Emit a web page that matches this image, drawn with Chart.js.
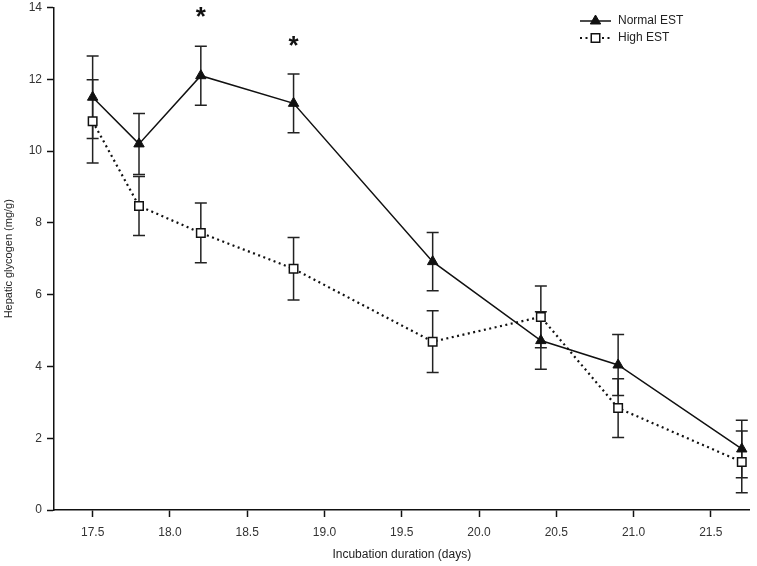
<!DOCTYPE html>
<html>
<head>
<meta charset="UTF-8">
<script src="https://cdn.jsdelivr.net/npm/chart.js"></script>
<style>
  html, body { margin: 0; padding: 0; background: #fff; }
  #wrap { width: 757px; height: 566px; }
</style>
</head>
<body>
<div id="wrap"><canvas id="c" width="757" height="566"></canvas></div>
<script>
// incubation day of each sample
const days = [17.5, 17.8, 18.2, 18.8, 19.7, 20.4, 20.9, 21.7];
// hepatic glycogen, mean and error
const normalEST = [11.5, 10.2, 12.1, 11.33, 6.92, 4.72, 4.04, 1.7];
const normalErr = [1.15, 0.85, 0.82, 0.82, 0.81, 0.8, 0.85, 0.8];
const highEST = [10.83, 8.47, 7.72, 6.72, 4.69, 5.38, 2.84, 1.34];
const highErr = [1.16, 0.82, 0.83, 0.87, 0.86, 0.86, 0.82, 0.86];
// significance marks
const starDays = [18.2, 18.8];
const starY = [13.8, 13.0];
const xTicks = [17.5, 18.0, 18.5, 19.0, 19.5, 20.0, 20.5, 21.0, 21.5];

const FONT = 'Liberation Sans, Arial, sans-serif';

const errorBars = {
  id: 'errorBars',
  beforeDatasetsDraw(chart) {
    const ctx = chart.ctx, xs = chart.scales.x, ys = chart.scales.y;
    const sets = [[normalEST, normalErr], [highEST, highErr]];
    ctx.save();
    ctx.strokeStyle = '#222';
    ctx.lineWidth = 1.5;
    sets.forEach(([vals, errs]) => {
      vals.forEach((v, i) => {
        const x = xs.getPixelForValue(days[i]);
        const y1 = ys.getPixelForValue(v + errs[i]);
        const y2 = ys.getPixelForValue(v - errs[i]);
        ctx.beginPath();
        ctx.moveTo(x, y1); ctx.lineTo(x, y2);
        ctx.moveTo(x - 6, y1); ctx.lineTo(x + 6, y1);
        ctx.moveTo(x - 6, y2); ctx.lineTo(x + 6, y2);
        ctx.stroke();
      });
    });
    ctx.restore();
  },
  afterDatasetsDraw(chart) {
    const ctx = chart.ctx, xs = chart.scales.x, ys = chart.scales.y;
    ctx.save();
    ctx.fillStyle = '#111';
    ctx.font = 'bold 26px ' + FONT;
    ctx.textAlign = 'center';
    ctx.textBaseline = 'middle';
    starDays.forEach((d, i) => {
      ctx.fillText('*', xs.getPixelForValue(d), ys.getPixelForValue(starY[i]) + 3);
    });
    ctx.restore();
  }
};

const customLegend = {
  id: 'customLegend',
  afterDraw(chart) {
    const ctx = chart.ctx;
    const x0 = 580, rows = [21, 38];
    ctx.save();
    chart.data.datasets.forEach((ds, i) => {
      const y = rows[i];
      const cx = x0 + 15.5;
      ctx.beginPath();
      ctx.strokeStyle = '#111';
      ctx.lineWidth = ds.borderWidth;
      ctx.setLineDash(ds.borderDash || []);
      ctx.moveTo(x0, y); ctx.lineTo(x0 + 31, y);
      ctx.stroke();
      ctx.setLineDash([]);
      ctx.fillStyle = ds.pointBackgroundColor;
      ctx.strokeStyle = ds.pointBorderColor;
      ctx.lineWidth = ds.pointBorderWidth;
      ctx.beginPath();
      if (ds.pointStyle === 'rect') {
        const s = Math.SQRT1_2 * ds.pointRadius;
        ctx.rect(cx - s, y - s, 2 * s, 2 * s);
      } else {
        const r = ds.pointRadius;
        ctx.moveTo(cx, y - r);
        ctx.lineTo(cx + r * 0.866, y + r / 2);
        ctx.lineTo(cx - r * 0.866, y + r / 2);
        ctx.closePath();
      }
      ctx.fill(); ctx.stroke();
      ctx.fillStyle = '#222';
      ctx.font = '12px ' + FONT;
      ctx.textBaseline = 'middle';
      ctx.fillText(ds.label, x0 + 38, y);
    });
    ctx.restore();
  }
};

new Chart(document.getElementById('c'), {
  type: 'line',
  data: {
    datasets: [
      {
        label: 'Normal EST',
        data: days.map((d, i) => ({ x: d, y: normalEST[i] })),
        borderColor: '#111',
        borderWidth: 1.5,
        pointStyle: 'triangle',
        pointRadius: 6,
        pointBackgroundColor: '#111',
        pointBorderColor: '#111',
        pointBorderWidth: 1,
        tension: 0
      },
      {
        label: 'High EST',
        data: days.map((d, i) => ({ x: d, y: highEST[i] })),
        borderColor: '#111',
        borderWidth: 2.2,
        borderDash: [2, 3.5],
        pointStyle: 'rect',
        pointRadius: 6,
        pointBackgroundColor: '#fff',
        pointBorderColor: '#111',
        pointBorderWidth: 1.5,
        tension: 0
      }
    ]
  },
  options: {
    responsive: false,
    animation: false,
    layout: { padding: { top: 0, right: 4, left: 0, bottom: 0 } },
    plugins: { legend: { display: false }, tooltip: { enabled: false } },
    scales: {
      x: {
        type: 'linear',
        min: 17.25,
        max: 21.75,
        afterBuildTicks(axis) { axis.ticks = xTicks.map(v => ({ value: v })); },
        afterFit(axis) { axis.height = 56; },
        grid: { display: true, drawOnChartArea: false, drawTicks: true, tickLength: 7, tickColor: '#111', tickWidth: 1.5 },
        border: { display: true, color: '#111', width: 1.5 },
        ticks: { color: '#333', font: { size: 12, family: FONT }, padding: 8, callback: v => v.toFixed(1), maxRotation: 0 },
        title: { display: true, text: 'Incubation duration (days)', color: '#222', font: { size: 12, family: FONT }, padding: { top: 6 } }
      },
      y: {
        min: 0,
        max: 14,
        afterFit(axis) { axis.width = 54; axis.paddingTop = 7; },
        grid: { display: true, drawOnChartArea: false, drawTicks: true, tickLength: 7, tickColor: '#111', tickWidth: 1.5 },
        border: { display: true, color: '#111', width: 1.5 },
        ticks: { stepSize: 2, color: '#333', font: { size: 12, family: FONT }, padding: 5 },
        title: { display: true, text: 'Hepatic glycogen (mg/g)', color: '#222', font: { size: 11, family: FONT }, padding: { top: 2, bottom: 0 } }
      }
    }
  },
  plugins: [errorBars, customLegend]
});
</script>
</body>
</html>
